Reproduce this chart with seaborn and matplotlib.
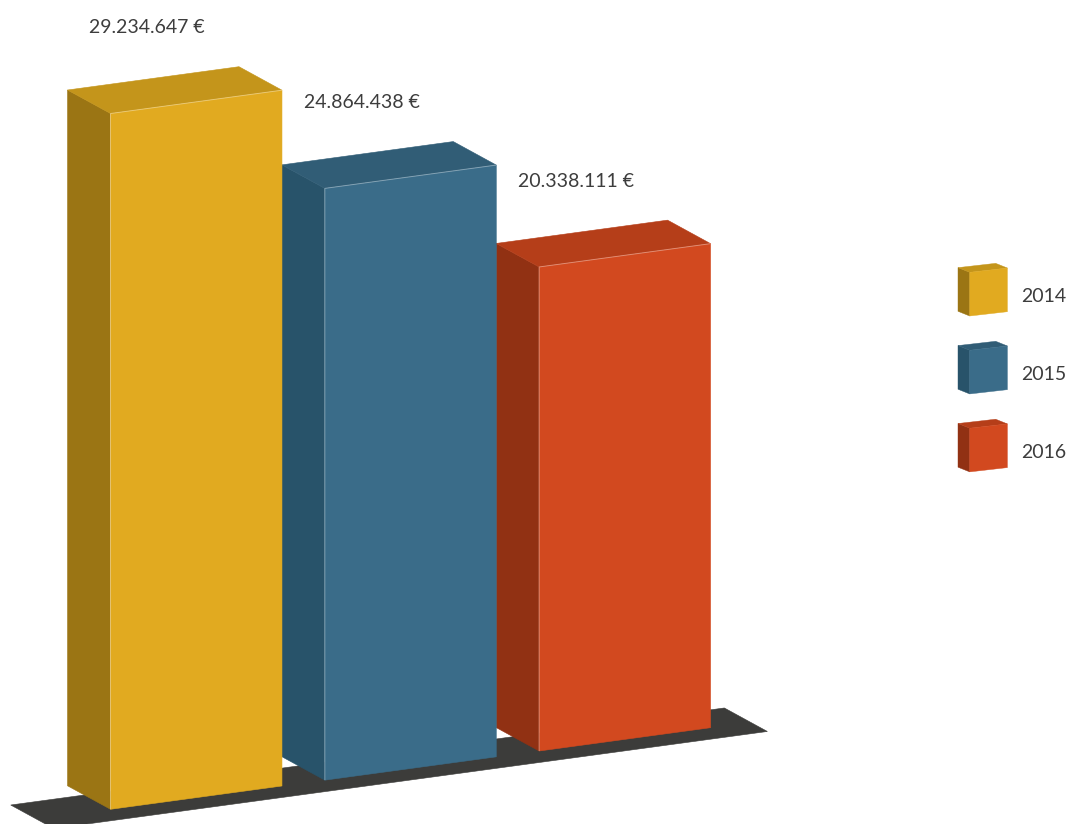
import numpy as np
import pandas as pd
import matplotlib
matplotlib.use("Agg")
import matplotlib.pyplot as plt
import seaborn as sns
from matplotlib.patches import Polygon, Patch
from matplotlib.transforms import Affine2D
from matplotlib.legend_handler import HandlerBase

# Revenue per year
years = ["2014", "2015", "2016"]
revenue = [29234647, 24864438, 20338111]
value_labels = ["29.234.647 €", "24.864.438 €", "20.338.111 €"]

# Face colours of each box: front, top (slightly darker), side (darkest)
front_colors = ["#E1AA20", "#3A6C89", "#D2491F"]
top_colors = ["#C4951B", "#315D76", "#B53E19"]
side_colors = ["#9B7514", "#28536A", "#913113"]
floor_color = "#3C3C3A"
text_color = "#3D3D3D"

# Canvas and pseudo-3D projection settings (pixels)
W, H, DPI = 1069, 824, 100
SHEAR = 0.136                      # rise of the front faces per pixel to the right
DEPTH = np.array([-43.0, 23.5])    # offset from the front to the back face
PX_PER_CAT = 214.3
PX_PER_EURO = 23.8e-6
X_ORIGIN = 196.25
BASE_PX = -0.33
FLOOR_MARGIN = 0.265               # floor overhang in category units
FLOOR_DROP = 11.5                  # floor lies slightly below the boxes
LEGEND_LIFT = 4.8                  # raise legend boxes against their labels (pt)

sns.set_theme(style="white")
plt.rcParams["font.family"] = ["Lato", "DejaVu Sans"]

fig = plt.figure(figsize=(W / DPI, H / DPI), dpi=DPI)
ax = fig.add_axes([0, 0, 1, 1])

df = pd.DataFrame({"year": years, "revenue": revenue})
sns.barplot(data=df, x="year", y="revenue", hue="year", palette=front_colors,
            saturation=1, width=0.8, errorbar=None, legend=False, ax=ax)

ylo = -BASE_PX / PX_PER_EURO
ax.set_xlim(-X_ORIGIN / PX_PER_CAT, (W - X_ORIGIN) / PX_PER_CAT)
ax.set_ylim(ylo, ylo + H / PX_PER_EURO)
ax.set_autoscale_on(False)
ax.axis("off")

# Oblique projection: the axes' data transform followed by a vertical shear
shear = Affine2D(np.array([[1.0, 0.0, 0.0], [SHEAR, 1.0, 0.0], [0.0, 0.0, 1.0]]))
proj = ax.transData + shear
inv = proj.inverted()


def add_face(disp_pts, color, z):
    poly = Polygon(inv.transform(np.asarray(disp_pts)), closed=True, transform=proj,
                   facecolor=color, edgecolor=color, linewidth=0.4, zorder=z)
    ax.add_patch(poly)
    return poly


bars = sorted(ax.patches, key=lambda p: p.get_x())

# Floor slab under the boxes
fx0 = bars[0].get_x() - FLOOR_MARGIN
fx1 = bars[-1].get_x() + bars[-1].get_width() + FLOOR_MARGIN
fl, fr = proj.transform([(fx0, 0), (fx1, 0)]) + np.array([0.0, -FLOOR_DROP])
add_face([fl, fr, fr + DEPTH, fl + DEPTH], floor_color, 1)

for i, p in enumerate(bars):
    x, w, h = p.get_x(), p.get_width(), p.get_height()
    bl, br, tr_, tl = proj.transform([(x, 0), (x + w, 0), (x + w, h), (x, h)])
    add_face([bl, tl, tl + DEPTH, bl + DEPTH], side_colors[i], 2)
    add_face([tl, tr_, tr_ + DEPTH, tl + DEPTH], top_colors[i], 2)
    p.set_transform(proj)
    p.set_zorder(3)
    p.set_edgecolor(front_colors[i])
    p.set_linewidth(0.4)
    # faint highlight along the visible front edges
    ax.plot([x, x, x + w], [0, h, h], transform=proj, color="white",
            alpha=0.35, lw=0.7, zorder=4, solid_capstyle="butt")
    ax.annotate(value_labels[i], xy=(x + w / 2, h), xycoords=proj,
                xytext=(-49, 74), textcoords="offset pixels",
                ha="center", va="center", fontsize=14, color=text_color)


class CubeHandler(HandlerBase):
    """Draws a small box in the legend, matching the bars."""

    def create_artists(self, legend, orig_handle, xdescent, ydescent,
                       width, height, fontsize, trans):
        fc, tc, sc = orig_handle.cube_colors
        x0, y0 = -xdescent, -ydescent + LEGEND_LIFT
        sx, sy = width / 49.3, height / 52.7

        def pts(seq):
            return [(x0 + a * sx, y0 + b * sy) for a, b in seq]

        faces = [
            ([(0, 4.7), (11.7, 0), (11.7, 43.7), (0, 48.4)], sc),
            ([(0, 48.4), (11.7, 43.7), (49.3, 48), (37.6, 52.7)], tc),
            ([(11.7, 0), (49.3, 4.3), (49.3, 48), (11.7, 43.7)], fc),
        ]
        return [Polygon(pts(s), closed=True, facecolor=c, edgecolor=c,
                        linewidth=0.3, transform=trans) for s, c in faces]


handles = []
for i, yr in enumerate(years):
    h = Patch(facecolor=front_colors[i], label=yr)
    h.cube_colors = (front_colors[i], top_colors[i], side_colors[i])
    handles.append(h)

ax.legend(handles=handles, labels=years, handler_map={Patch: CubeHandler()},
          loc="upper left", bbox_to_anchor=(958 / W, 1 - 270.0 / H),
          bbox_transform=fig.transFigure, frameon=False, fontsize=14,
          labelcolor=text_color, borderpad=0, borderaxespad=0,
          handlelength=2.54, handleheight=3.79, labelspacing=1.3,
          handletextpad=0.7)

fig.savefig("out.png", dpi=DPI)
